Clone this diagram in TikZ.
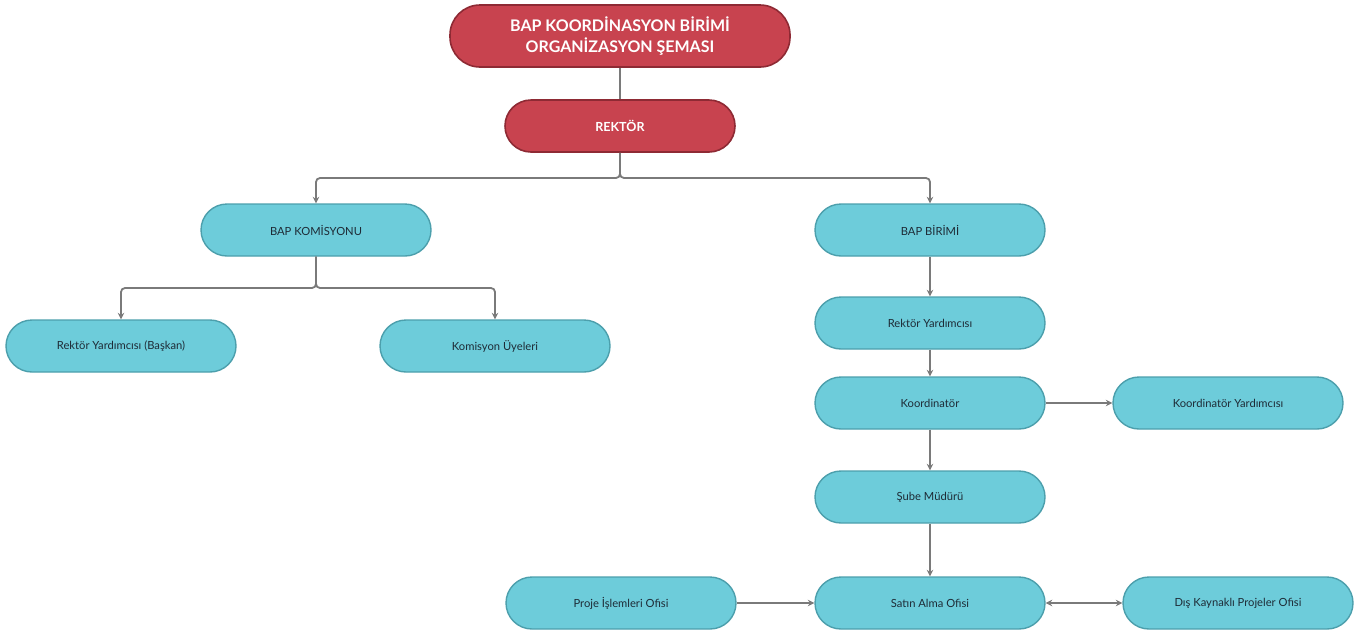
\documentclass[tikz,border=0pt]{standalone}
\usepackage{fontspec}
\setmainfont{Lato}
\usetikzlibrary{arrows.meta}
\definecolor{redfill}{HTML}{C8434F}
\definecolor{redline}{HTML}{8E2A34}
\definecolor{cyanfill}{HTML}{6DCCDA}
\definecolor{cyanline}{HTML}{4C9FAC}
\definecolor{conn}{HTML}{7A7A7A}
\definecolor{txt}{HTML}{1E2B36}
\tikzset{
  redbox/.style={draw=redline, fill=redfill, line width=1.6pt, rounded corners=26pt,
    minimum width=230pt, minimum height=52pt, text=white, font=\fontsize{12.5}{14}\selectfont\bfseries, align=center},
  titlebox/.style={redbox, minimum width=340pt, minimum height=62pt, rounded corners=30pt,
    font=\fontsize{16}{21}\selectfont\bfseries},
  cyanbox/.style={draw=cyanline, fill=cyanfill, line width=1.4pt, rounded corners=26pt,
    minimum width=230pt, minimum height=52pt, text=txt, font=\fontsize{11.2}{13}\selectfont},
  conline/.style={draw=conn, line width=1.8pt, rounded corners=4pt},
  arr/.style={conline, -{Stealth[length=6.5pt,width=6.5pt]}},
  darr/.style={conline, {Stealth[length=6.5pt,width=6.5pt]}-{Stealth[length=6.5pt,width=6.5pt]}}
}
\begin{document}
\begin{tikzpicture}[x=1pt,y=-1pt]
\useasboundingbox (0,0) rectangle (1364,630);
\node[titlebox] (title) at (620,36) {BAP KOORDİNASYON BİRİMİ\\ORGANİZASYON ŞEMASI};
\node[redbox] (rektor) at (620,126) {REKTÖR};
\node[cyanbox] (kom) at (316,230) {BAP KOMİSYONU};
\node[cyanbox] (birim) at (930,230) {BAP BİRİMİ};
\node[cyanbox] (ryb) at (121,346) {Rektör Yardımcısı (Başkan)};
\node[cyanbox] (uye) at (495,346) {Komisyon Üyeleri};
\node[cyanbox] (ry) at (930,323) {Rektör Yardımcısı};
\node[cyanbox] (koord) at (930,403) {Koordinatör};
\node[cyanbox] (kyard) at (1228,403) {Koordinatör Yardımcısı};
\node[cyanbox] (sube) at (930,497) {Şube Müdürü};
\node[cyanbox] (satin) at (930,603) {Satın Alma Ofisi};
\node[cyanbox] (proje) at (621,603) {Proje İşlemleri Ofisi};
\node[cyanbox] (dis) at (1238,603) {Dış Kaynaklı Projeler Ofisi};

\coordinate (j1) at (620,178);
\coordinate (j2) at (316,288);
\draw[conline] (title.south) -- (rektor.north);
\draw[arr] (rektor.south) -- (j1) -| (kom.north);
\draw[arr] (rektor.south) -- (j1) -| (birim.north);
\draw[arr] (kom.south) -- (j2) -| (ryb.north);
\draw[arr] (kom.south) -- (j2) -| (uye.north);
\draw[arr] (birim) -- (ry);
\draw[arr] (ry) -- (koord);
\draw[arr] (koord) -- (kyard);
\draw[arr] (koord) -- (sube);
\draw[arr] (sube) -- (satin);
\draw[arr] (proje) -- (satin);
\draw[darr] (satin) -- (dis);
\end{tikzpicture}
\end{document}
